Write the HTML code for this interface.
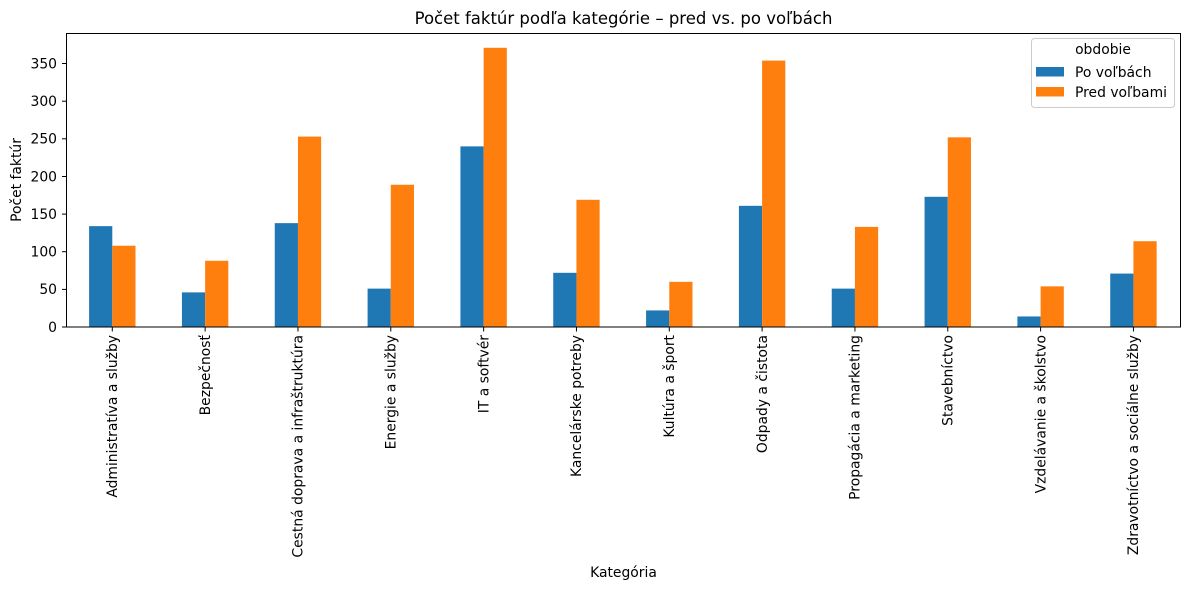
<!DOCTYPE html><html><head><style>body{margin:0;background:#fff}svg{display:block;font-family:"DejaVu Sans","Liberation Sans",sans-serif}</style></head><body>
<svg width="1189" height="590" xmlns="http://www.w3.org/2000/svg">
<rect width="1189" height="590" fill="#fff"/>
<g fill="#1f77b4">
<rect x="89.1" y="226.15" width="23.2" height="100.85"/>
<rect x="181.93" y="292.38" width="23.2" height="34.62"/>
<rect x="274.76" y="223.14" width="23.2" height="103.86"/>
<rect x="367.59" y="288.62" width="23.2" height="38.38"/>
<rect x="460.42" y="146.38" width="23.2" height="180.62"/>
<rect x="553.25" y="272.81" width="23.2" height="54.19"/>
<rect x="646.08" y="310.44" width="23.2" height="16.56"/>
<rect x="738.91" y="205.83" width="23.2" height="121.17"/>
<rect x="831.74" y="288.62" width="23.2" height="38.38"/>
<rect x="924.57" y="196.8" width="23.2" height="130.2"/>
<rect x="1017.4" y="316.46" width="23.2" height="10.54"/>
<rect x="1110.23" y="273.57" width="23.2" height="53.43"/>
</g>
<g fill="#ff7f0e">
<rect x="112.3" y="245.72" width="23.2" height="81.28"/>
<rect x="205.13" y="260.77" width="23.2" height="66.23"/>
<rect x="297.96" y="136.59" width="23.2" height="190.41"/>
<rect x="390.79" y="184.76" width="23.2" height="142.24"/>
<rect x="483.62" y="47.79" width="23.2" height="279.21"/>
<rect x="576.45" y="199.81" width="23.2" height="127.19"/>
<rect x="669.28" y="281.84" width="23.2" height="45.16"/>
<rect x="762.11" y="60.58" width="23.2" height="266.42"/>
<rect x="854.94" y="226.9" width="23.2" height="100.1"/>
<rect x="947.77" y="137.34" width="23.2" height="189.66"/>
<rect x="1040.6" y="286.36" width="23.2" height="40.64"/>
<rect x="1133.43" y="241.2" width="23.2" height="85.8"/>
</g>
<text x="623.5" y="24" font-size="16.5" text-anchor="middle">Počet faktúr podľa kategórie – pred vs. po voľbách</text>
<g font-size="13.9" fill="#000">
<g text-anchor="end">
<text x="57" y="331.8">0</text><text x="57" y="294.1">50</text><text x="57" y="256.5">100</text><text x="57" y="218.9">150</text><text x="57" y="181.3">200</text><text x="57" y="143.6">250</text><text x="57" y="106">300</text><text x="57" y="68.3">350</text>
</g>
<g stroke="#000" stroke-width="1">
<line x1="62" x2="66.5" y1="327" y2="327"/><line x1="62" x2="66.5" y1="289.4" y2="289.4"/><line x1="62" x2="66.5" y1="251.7" y2="251.7"/><line x1="62" x2="66.5" y1="214.1" y2="214.1"/><line x1="62" x2="66.5" y1="176.5" y2="176.5"/><line x1="62" x2="66.5" y1="138.8" y2="138.8"/><line x1="62" x2="66.5" y1="101.2" y2="101.2"/><line x1="62" x2="66.5" y1="63.5" y2="63.5"/>
<line x1="112.3" x2="112.3" y1="327" y2="331.5"/><line x1="205.13" x2="205.13" y1="327" y2="331.5"/><line x1="297.96" x2="297.96" y1="327" y2="331.5"/><line x1="390.79" x2="390.79" y1="327" y2="331.5"/><line x1="483.62" x2="483.62" y1="327" y2="331.5"/><line x1="576.45" x2="576.45" y1="327" y2="331.5"/><line x1="669.28" x2="669.28" y1="327" y2="331.5"/><line x1="762.11" x2="762.11" y1="327" y2="331.5"/><line x1="854.94" x2="854.94" y1="327" y2="331.5"/><line x1="947.77" x2="947.77" y1="327" y2="331.5"/><line x1="1040.6" x2="1040.6" y1="327" y2="331.5"/><line x1="1133.43" x2="1133.43" y1="327" y2="331.5"/>
</g>
<g text-anchor="end">
<text transform="translate(117,335) rotate(-90)">Administratíva a služby</text>
<text transform="translate(209.8,335) rotate(-90)">Bezpečnosť</text>
<text transform="translate(302.7,335) rotate(-90)">Cestná doprava a infraštruktúra</text>
<text transform="translate(395.5,335) rotate(-90)">Energie a služby</text>
<text transform="translate(488.3,335) rotate(-90)">IT a softvér</text>
<text transform="translate(581.2,335) rotate(-90)">Kancelárske potreby</text>
<text transform="translate(674,335) rotate(-90)">Kultúra a šport</text>
<text transform="translate(766.8,335) rotate(-90)">Odpady a čistota</text>
<text transform="translate(859.6,335) rotate(-90)">Propagácia a marketing</text>
<text transform="translate(952.5,335) rotate(-90)">Stavebníctvo</text>
<text transform="translate(1045.3,335) rotate(-90)">Vzdelávanie a školstvo</text>
<text transform="translate(1138.1,335) rotate(-90)">Zdravotníctvo a sociálne služby</text>
</g>
<text transform="translate(21,180) rotate(-90)" text-anchor="middle">Počet faktúr</text>
<text x="623.5" y="577" text-anchor="middle">Kategória</text>
</g>
<rect x="66.5" y="33.5" width="1114" height="293.5" fill="none" stroke="#000" stroke-width="1"/>
<g font-size="13.9">
<rect x="1031.5" y="38.5" width="143" height="69" rx="3" fill="#fff" stroke="#ccc"/>
<text x="1103" y="54" text-anchor="middle">obdobie</text>
<rect x="1036" y="67" width="28" height="9.5" fill="#1f77b4"/><text x="1075" y="77">Po voľbách</text>
<rect x="1036" y="87" width="28" height="9.5" fill="#ff7f0e"/><text x="1075" y="97">Pred voľbami</text>
</g>
</svg></body></html>
